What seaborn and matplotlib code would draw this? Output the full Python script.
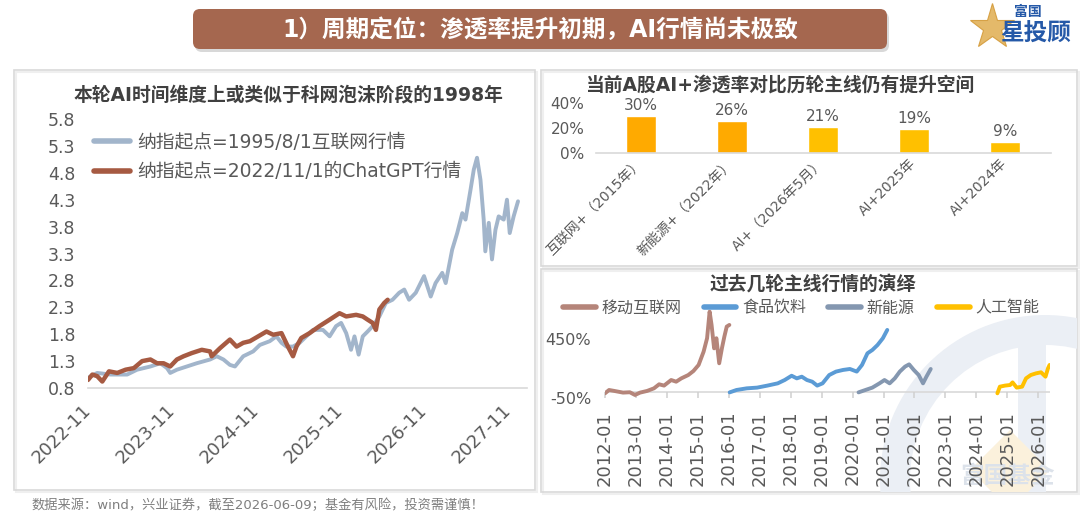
import numpy as np
import pandas as pd
import matplotlib
matplotlib.use('Agg')
import matplotlib.pyplot as plt
import matplotlib.dates as mdates
from matplotlib.patches import FancyBboxPatch, Rectangle, Wedge, Polygon
import seaborn as sns

sns.set_theme(style='white')
plt.rcParams['font.family'] = ['DejaVu Sans', 'Noto Sans CJK SC']
plt.rcParams['axes.unicode_minus'] = False

# ---------------- data ----------------
# Left chart: Nasdaq rebased paths
nas1995_dates = ['2022-11-01', '2022-12-11', '2023-02-07', '2023-04-20', '2023-06-02', '2023-07-30',
                 '2023-09-11', '2023-10-10', '2023-10-24', '2023-11-22', '2024-01-04', '2024-02-16',
                 '2024-04-14', '2024-05-13', '2024-06-11', '2024-07-09', '2024-07-31', '2024-09-05',
                 '2024-10-18', '2024-11-16', '2024-12-29', '2025-01-27', '2025-02-18', '2025-03-11',
                 '2025-04-09', '2025-05-08', '2025-06-06', '2025-07-05', '2025-08-17', '2025-09-15',
                 '2025-10-13', '2025-11-04', '2025-11-26', '2025-12-17', '2026-01-01', '2026-01-19',
                 '2026-02-06', '2026-02-27', '2026-03-21', '2026-04-19', '2026-05-17', '2026-06-15',
                 '2026-07-14', '2026-08-05', '2026-08-26', '2026-09-24', '2026-10-30', '2026-11-28',
                 '2026-12-19', '2027-01-17', '2027-02-01', '2027-03-01', '2027-03-23', '2027-04-14',
                 '2027-04-28', '2027-05-20', '2027-06-03', '2027-06-17', '2027-07-02', '2027-07-16',
                 '2027-07-23', '2027-08-07', '2027-08-21', '2027-09-05', '2027-09-19', '2027-10-11',
                 '2027-10-25', '2027-11-06', '2027-11-23', '2027-12-12']
nas1995_vals = [0.99, 1.08, 1.05, 1.05, 1.14, 1.20,
                1.26, 1.17, 1.08, 1.14, 1.20, 1.26,
                1.33, 1.39, 1.33, 1.23, 1.20, 1.39,
                1.48, 1.60, 1.67, 1.76, 1.64, 1.57,
                1.57, 1.64, 1.76, 1.88, 1.88, 1.76,
                1.95, 2.01, 1.82, 1.51, 1.76, 1.42,
                1.76, 1.85, 1.95, 2.13, 2.38, 2.44,
                2.57, 2.63, 2.44, 2.57, 2.88, 2.50,
                2.75, 2.94, 2.75, 3.37, 3.68, 4.05,
                3.93, 4.49, 4.86, 5.08, 4.67, 3.93,
                3.34, 3.87, 3.19, 3.74, 3.99, 3.93,
                4.30, 3.68, 3.99, 4.27]

nas2022_dates = ['2022-11-01', '2022-11-20', '2022-12-11', '2023-01-02', '2023-01-31', '2023-03-08',
                 '2023-04-13', '2023-05-19', '2023-06-24', '2023-07-30', '2023-08-28', '2023-09-25',
                 '2023-10-24', '2023-11-22', '2023-12-21', '2024-01-26', '2024-03-09', '2024-04-14',
                 '2024-04-21', '2024-05-27', '2024-07-09', '2024-08-07', '2024-09-05', '2024-10-04',
                 '2024-11-09', '2024-12-15', '2025-01-13', '2025-02-18', '2025-03-18', '2025-04-09',
                 '2025-04-24', '2025-05-15', '2025-06-20', '2025-08-02', '2025-09-15', '2025-10-28',
                 '2025-11-26', '2026-01-08', '2026-02-06', '2026-02-27', '2026-03-21', '2026-04-04',
                 '2026-04-19', '2026-05-10', '2026-05-25']
nas2022_vals = [0.95, 1.05, 1.02, 0.92, 1.11, 1.08,
                1.14, 1.17, 1.30, 1.33, 1.26, 1.26,
                1.20, 1.33, 1.39, 1.45, 1.51, 1.48,
                1.39, 1.54, 1.70, 1.57, 1.64, 1.67,
                1.76, 1.85, 1.79, 1.82, 1.57, 1.39,
                1.57, 1.73, 1.82, 1.95, 2.07, 2.19,
                2.13, 2.16, 2.13, 2.07, 2.01, 1.88,
                2.26, 2.38, 2.44]

left_xticks = ['2022-11-01', '2023-11-01', '2024-11-01', '2025-11-01', '2026-11-01', '2027-11-01']
left_yticks = [0.8, 1.3, 1.8, 2.3, 2.8, 3.3, 3.8, 4.3, 4.8, 5.3, 5.8]

# Top-right bar chart
bar_cats = ['互联网+（2015年）', '新能源+（2022年）', 'AI+（2026年5月）', 'AI+2025年', 'AI+2024年']
bar_vals = [0.30, 0.26, 0.21, 0.19, 0.09]
bar_colors = ['#FFAA00', '#FFAA00', '#FFC000', '#FFC000', '#FFC000']

# Bottom-right: past themes (cumulative return, %)
mobile_dates = ['2012-01-01', '2012-02-18', '2012-04-20', '2012-08-01', '2012-10-20', '2012-12-20',
                '2013-02-18', '2013-05-12', '2013-08-01', '2013-10-01', '2013-11-28', '2014-02-20',
                '2014-04-20', '2014-06-20', '2014-09-10', '2014-11-10', '2015-01-10', '2015-03-10',
                '2015-04-20', '2015-05-20', '2015-06-12', '2015-07-12', '2015-08-08', '2015-09-10',
                '2015-10-12', '2015-11-10', '2015-12-08', '2016-01-08']
mobile_vals = [-8, 20, 12, -2, 1, -22,
               -2, 12, 34, 68, 57, 104,
               90, 118, 146, 180, 231, 343,
               456, 680, 568, 371, 456, 245,
               371, 470, 554, 568]

food_dates = ['2016-01-12', '2016-04-01', '2016-08-01', '2016-12-01', '2017-04-01', '2017-08-01',
              '2017-10-22', '2018-01-12', '2018-03-14', '2018-05-12', '2018-07-12', '2018-09-12',
              '2018-11-10', '2019-01-12', '2019-04-01', '2019-06-20', '2019-09-12', '2019-12-01',
              '2020-02-20', '2020-04-22', '2020-06-25', '2020-08-22', '2020-10-22', '2020-12-24',
              '2021-02-14']
food_vals = [0, 20, 34, 40, 57, 76,
             104, 140, 118, 132, 104, 90,
             57, 76, 146, 175, 189, 197,
             175, 231, 329, 357, 399, 456,
             526]

nev_dates = ['2020-03-12', '2020-06-01', '2020-08-22', '2020-11-14', '2021-01-12', '2021-03-14',
             '2021-05-14', '2021-07-12', '2021-09-12', '2021-10-30', '2021-12-24', '2022-02-20',
             '2022-04-12', '2022-05-22', '2022-07-12']
nev_vals = [0, 20, 40, 76, 104, 76,
            118, 175, 217, 236, 189, 146,
            76, 132, 197]

ai_dates = ['2024-09-06', '2024-10-05', '2024-12-05', '2025-02-03', '2025-03-04', '2025-04-22',
            '2025-06-25', '2025-08-10', '2025-10-05', '2025-12-05', '2026-02-03', '2026-03-28',
            '2026-04-26', '2026-05-15']
ai_vals = [-8, 48, 57, 62, 84, 40,
           48, 118, 146, 160, 169, 132,
           202, 231]

theme_names = ['移动互联网', '食品饮料', '新能源', '人工智能']
theme_colors = ['#B5857A', '#5B9BD5', '#8497B0', '#FFC000']
br_xticks = [f'{y}-01-01' for y in range(2012, 2027)]

# ---------------- figure ----------------
W, H = 1080, 515
fig = plt.figure(figsize=(W / 100, H / 100), dpi=100)
fig.patch.set_facecolor('white')


def ax_px(x0, y0, x1, y1):
    a = fig.add_axes([x0 / W, 1 - y1 / H, (x1 - x0) / W, (y1 - y0) / H])
    a.set_facecolor('none')
    a.set_zorder(2)
    return a


bg = fig.add_axes([0, 0, 1, 1])
bg.set_xlim(0, W)
bg.set_ylim(H, 0)
bg.axis('off')
bg.set_zorder(0)

TXT = '#595959'

# banner
bg.add_patch(FancyBboxPatch((195, 12), 694, 40, boxstyle='round,pad=0,rounding_size=7',
                            fc='#D8D8D8', ec='none'))
bg.add_patch(FancyBboxPatch((193, 9), 694, 40, boxstyle='round,pad=0,rounding_size=7',
                            fc='#A5674F', ec='none'))
bg.text(540, 30, '1）周期定位：渗透率提升初期，AI行情尚未极致', color='white', fontsize=17,
        fontweight='bold', ha='center', va='center')

# logo
bg.plot([992], [27], marker='*', markersize=34, color='#E2B25A', alpha=0.9, mec='#D49B3A', mew=0.8)
bg.text(1028, 12, '富国', color='#2559A8', fontsize=10, fontweight='bold', ha='center', va='center')
bg.text(1036, 34, '星投顾', color='#2559A8', fontsize=17, fontweight='bold', ha='center', va='center')

# panels
for (x0, y0, x1, y1) in [(14, 70, 535, 490), (541, 70, 1077, 266), (541, 269, 1077, 492)]:
    bg.add_patch(Rectangle((x0 + 2, y0 + 2), x1 - x0, y1 - y0, fill=False, ec='#EFEFEF', lw=1.5))
    bg.add_patch(Rectangle((x0, y0), x1 - x0, y1 - y0, fill=False, ec='#D9D9D9', lw=1.2))

# watermark in bottom-right panel
clip = Rectangle((541, 269), 536, 223, transform=bg.transData)
ring = Wedge((1045, 480), 165, 0, 360, width=30, fc='#EBEFF5', ec='none')
bg.add_patch(ring)
ring.set_clip_path(clip)
bar_wm = Rectangle((1018, 318), 28, 180, fc='#EBEFF5', ec='none')
bg.add_patch(bar_wm)
bar_wm.set_clip_path(clip)
dia = Polygon([[1010, 430], [1050, 470], [1010, 510], [970, 470]], closed=True, fc='#FBF1DC', ec='none')
bg.add_patch(dia)
dia.set_clip_path(clip)
bg.text(1008, 476, '富国基金', color='#DCE2EA', fontsize=17, fontweight='bold', ha='center', va='center')

# titles
bg.text(288, 95, '本轮AI时间维度上或类似于科网泡沫阶段的1998年', color='#404040', fontsize=13.5,
        fontweight='bold', ha='center', va='center')
bg.text(780, 85, '当前A股AI+渗透率对比历轮主线仍有提升空间', color='#404040', fontsize=13.5,
        fontweight='bold', ha='center', va='center')
bg.text(813, 284, '过去几轮主线行情的演绎', color='#404040', fontsize=13.5,
        fontweight='bold', ha='center', va='center')

# footer
bg.text(31, 505, '数据来源：wind，兴业证券，截至2026-06-09；基金有风险，投资需谨慎！', color='#7F7F7F',
        fontsize=9.5, ha='left', va='center')

# ---------------- left chart ----------------
ax1 = ax_px(88, 119, 527, 388)
df95 = pd.DataFrame({'date': pd.to_datetime(nas1995_dates), 'v': nas1995_vals})
df22 = pd.DataFrame({'date': pd.to_datetime(nas2022_dates), 'v': nas2022_vals})
sns.lineplot(data=df95, x='date', y='v', ax=ax1, color='#A2B5CB', lw=2.8,
             label='纳指起点=1995/8/1互联网行情')
sns.lineplot(data=df22, x='date', y='v', ax=ax1, color='#A65A42', lw=3.2,
             label='纳指起点=2022/11/1的ChatGPT行情')
ax1.set_ylim(0.8, 5.8)
ax1.set_xlim(pd.Timestamp('2022-11-01'), pd.Timestamp('2028-01-20'))
ax1.set_yticks(left_yticks)
ax1.set_yticklabels([f'{v:.1f}' for v in left_yticks])
ax1.set_xticks(pd.to_datetime(left_xticks))
ax1.set_xticklabels([d[:7] for d in left_xticks])
ax1.set_xlabel('')
ax1.set_ylabel('')
for s in ['top', 'right', 'left']:
    ax1.spines[s].set_visible(False)
ax1.spines['bottom'].set_color('#D9D9D9')
ax1.spines['bottom'].set_linewidth(1.2)
ax1.tick_params(axis='y', length=0, labelsize=12.5, labelcolor=TXT, pad=9)
ax1.tick_params(axis='x', length=0, labelsize=13, labelcolor=TXT, pad=14)
for lab in ax1.get_xticklabels():
    lab.set_rotation(45)
    lab.set_ha('right')
    lab.set_va('center')
    lab.set_rotation_mode('anchor')
leg1 = ax1.legend(loc='upper left', bbox_to_anchor=(94 / W, 1 - 133 / H), bbox_transform=fig.transFigure,
                  frameon=False, fontsize=13.5, handlelength=1.9, handletextpad=0.4,
                  labelspacing=0.55, borderpad=0, borderaxespad=0)
for t in leg1.get_texts():
    t.set_color(TXT)
for l in leg1.get_lines():
    l.set_linewidth(4)

# ---------------- top-right bar chart ----------------
ax2 = ax_px(595.5, 103, 1050.5, 153)
dfb = pd.DataFrame({'cat': bar_cats, 'v': bar_vals})
sns.barplot(data=dfb, x='cat', y='v', hue='cat', palette=bar_colors, width=0.32, ax=ax2,
            legend=False, saturation=1)
for c in ax2.containers:
    ax2.bar_label(c, labels=[f'{v * 100:.0f}%' for v in c.datavalues], padding=2,
                  fontsize=11, color=TXT)
ax2.set_ylim(0, 0.4)
ax2.set_xlim(-0.5, 4.5)
ax2.set_yticks([0, 0.2, 0.4])
ax2.set_yticklabels(['0%', '20%', '40%'])
ax2.set_xlabel('')
ax2.set_ylabel('')
for s in ['top', 'right', 'left']:
    ax2.spines[s].set_visible(False)
ax2.spines['bottom'].set_color('#D9D9D9')
ax2.spines['bottom'].set_linewidth(1.2)
ax2.tick_params(axis='y', length=0, labelsize=11, labelcolor=TXT, pad=8)
ax2.tick_params(axis='x', length=0, labelsize=10, labelcolor=TXT, pad=6)
for lab in ax2.get_xticklabels():
    lab.set_rotation(45)
    lab.set_ha('right')
    lab.set_va('center')
    lab.set_rotation_mode('anchor')

# ---------------- bottom-right chart ----------------
ax3 = ax_px(605, 305, 1050, 398.3)
series = [(mobile_dates, mobile_vals), (food_dates, food_vals), (nev_dates, nev_vals), (ai_dates, ai_vals)]
for (d, v), name, col in zip(series, theme_names, theme_colors):
    dft = pd.DataFrame({'date': pd.to_datetime(d), 'v': v})
    sns.lineplot(data=dft, x='date', y='v', ax=ax3, color=col, lw=2.8, label=name)
ax3.axhline(0, color='#D9D9D9', lw=1.2, zorder=0)
ax3.set_ylim(-50, 736)
ax3.set_xlim(pd.Timestamp('2012-01-01'), pd.Timestamp('2026-05-20'))
ax3.set_yticks([-50, 450])
ax3.set_yticklabels(['-50%', '450%'])
ax3.set_xticks(pd.to_datetime(br_xticks))
ax3.set_xticklabels([d[:7] for d in br_xticks], rotation=90)
ax3.set_xlabel('')
ax3.set_ylabel('')
for s in ['top', 'right', 'left', 'bottom']:
    ax3.spines[s].set_visible(False)
ax3.tick_params(axis='y', length=0, labelsize=11.5, labelcolor=TXT, pad=10)
ax3.tick_params(axis='x', direction='in', length=4.6, width=1.1, color='#D0D0D0',
                labelsize=13, labelcolor=TXT, pad=9, bottom=True)
leg3 = ax3.legend(loc='center left', bbox_to_anchor=(563 / W, 1 - 308 / H), bbox_transform=fig.transFigure,
                  ncol=4, frameon=False, fontsize=11.5, handlelength=2.05, handletextpad=0.35,
                  columnspacing=1.4, borderpad=0, borderaxespad=0)
for t in leg3.get_texts():
    t.set_color(TXT)
for l in leg3.get_lines():
    l.set_linewidth(4)

fig.savefig('out.png', dpi=100, facecolor='white')
